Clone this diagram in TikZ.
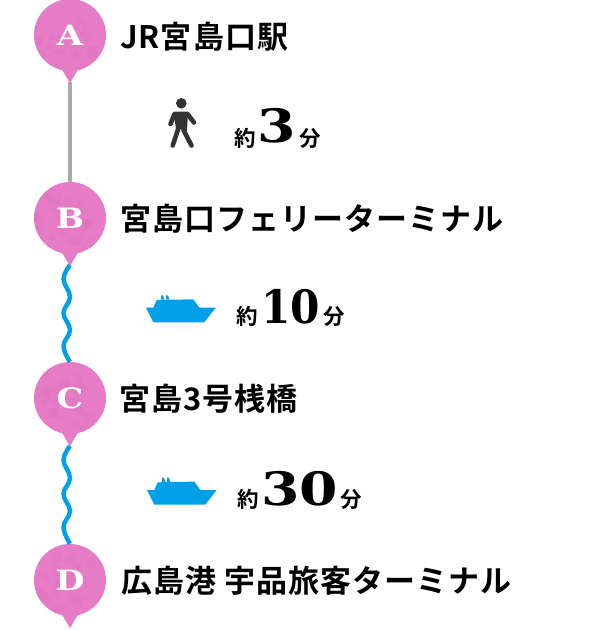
\documentclass[tikz,border=0pt]{standalone}
\usepackage{fontspec}
\setmainfont{Noto Sans CJK JP}[BoldFont={Noto Sans CJK JP Bold}]
\newfontfamily\slabfont{DejaVu Serif}[BoldFont={DejaVu Serif Bold}]
\usepackage{graphicx}
\usepackage{tikz}
\usetikzlibrary{positioning}
\definecolor{pinpink}{HTML}{E57CC5}
\definecolor{pinblot}{HTML}{DE6DB9}
\definecolor{seablue}{HTML}{00A0E9}
\definecolor{walkgray}{HTML}{A9A9A9}
\definecolor{walkdark}{HTML}{333333}
\newcommand{\wideltr}[2]{\scalebox{#1}[1]{#2}}
\tikzset{
  pinn/.style  = {circle, fill=pinpink, minimum size=72pt, inner sep=0pt, text=white,
                  font=\slabfont\bfseries\fontsize{28}{28}\selectfont,
                  path picture={
                    \begin{scope}[shift={(path picture bounding box.center)}]
                      \foreach \i in {1,...,45}
                        \fill[pinblot, opacity=.2] ({rnd*72-36},{rnd*72-36}) circle ({2+rnd*4});
                    \end{scope}}},
  stopn/.style = {anchor=west, inner sep=0pt,
                  font=\bfseries\fontsize{31}{33}\selectfont\addfontfeatures{LetterSpace=3.3}},
  tme/.style   = {anchor=base west, inner sep=0pt, font=\bfseries\fontsize{21.5}{24}\selectfont},
  num/.style   = {anchor=base west, inner sep=0pt, font=\slabfont\bfseries\fontsize{46}{46}\selectfont},
  walkln/.style = {line width=3.6pt, walkgray},
  seaw/.style  = {line width=4.4pt, seablue},
  limb/.style  = {walkdark, line width=4.6pt, line cap=round, line join=round},
  ship/.pic = {
    \fill[seablue] (0,0) -- (7.3,0) -- (10.7,-7.7) -- (47.3,-8.4) -- (53.3,0) -- (69.7,0)
      -- (58.3,14.6) -- (7.3,14.6) -- cycle;
    \fill[seablue] (15,-8) -- (15,-12.3) -- (17,-12.3) -- (18.5,-8) -- cycle;
    \fill[seablue] (20,-8) -- (20,-12.3) -- (22,-12.3) -- (23.5,-8) -- cycle;
  },
}
\begin{document}
\begin{tikzpicture}[x=1pt,y=-1pt]
  \useasboundingbox (0,0) rectangle (590,630);
  \pgfmathsetseed{7}

  \coordinate (tipa) at (70,82);
  \coordinate (tipb) at (70,265);
  \coordinate (tipc) at (70,446);

  \node[pinn] (pina) at (70,35) {\wideltr{1.2}{A}};
  \node[pinn] (pinb) at (70,218) {\wideltr{1.2}{B}};
  \node[pinn] (pinc) at (70,398) {\wideltr{1.2}{C}};
  \node[pinn] (pind) at (70,580) {\wideltr{1.2}{D}};

  \draw[walkln] (tipa) -- (pinb.north);
  \draw[seaw] plot[smooth, tension=.7] coordinates {(tipb) (63.5,279) (70,297) (63.5,313) (70,330) (63.5,346) (pinc.north)};
  \draw[seaw] plot[smooth, tension=.7] coordinates {(tipc) (63.5,460) (70,478) (63.5,494) (70,511) (63.5,527) (pind.north)};

  \foreach \p/\t in {pina/83,pinb/266,pinc/446,pind/628}
    \fill[pinpink] ([xshift=-9pt,yshift=-33pt]\p.center) -- (\p.center |- 0,\t) -- ([xshift=9pt,yshift=-33pt]\p.center) -- cycle;

  \node[stopn] (stopa) at (120,37) {JR宮島口駅};
  \node[stopn] (stopb) at (120,219) {宮島口フェリーターミナル};
  \node[stopn] (stopc) at (119,399) {宮島3号桟橋};
  \node[stopn] (stopd) at (121,581) {広島港 宇品旅客ターミナル};

  % walker
  \fill[walkdark] (181.3,103.3) circle (5.3);
  \draw[limb] (170.5,124) -- (174.5,114) -- (187.5,114) -- (194,122.5);
  \fill[walkdark] (173,112) -- (188,112) -- (187,131) -- (176,128) -- cycle;
  \draw[limb] (178.5,128) -- (172.7,145.5);
  \draw[limb] (183.5,130) -- (191.5,145.5);

  \pic at (146,307.7) {ship};
  \pic at (147,490) {ship};

  \node[tme] (yakua) at (234,146) {約};
  \node[num] (numa) at (257,142) {\wideltr{1.2}{3}};
  \node[tme, right=3pt of numa.base east, anchor=base west, yshift=-4pt] (funa) {分};
  \node[tme] (yakub) at (236,324) {約};
  \node[num] (numb) at (261,323) {\wideltr{.92}{10}};
  \node[tme, right=3pt of numb.base east, anchor=base west, yshift=-1pt] (funb) {分};
  \node[tme] (yakuc) at (237,507) {約};
  \node[num] (numc) at (261,505) {\wideltr{1.2}{30}};
  \node[tme, right=2pt of numc.base east, anchor=base west, yshift=-2pt] (func) {分};
\end{tikzpicture}
\end{document}
